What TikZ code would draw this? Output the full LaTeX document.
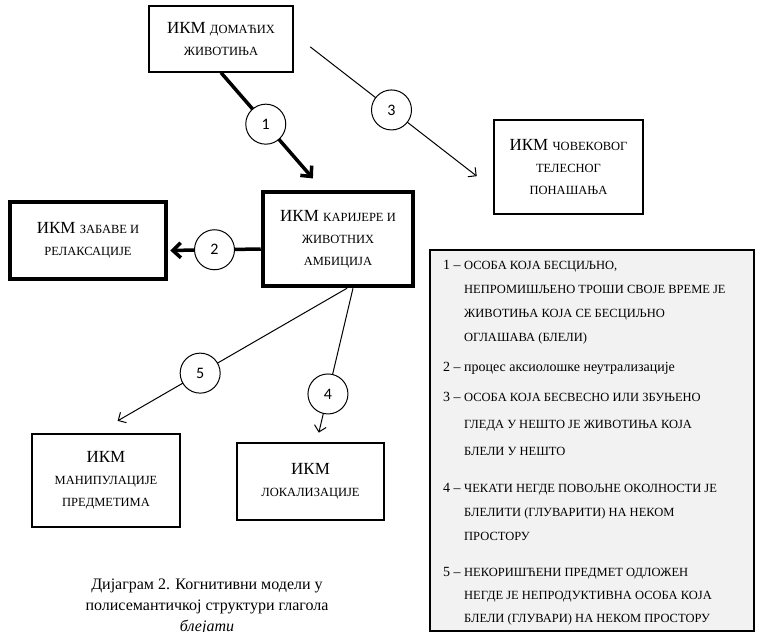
\documentclass[tikz,border=0pt]{standalone}
\usepackage{fontspec}
\setmainfont{Liberation Serif}
\newfontfamily\numfont{Carlito}
\usetikzlibrary{arrows.meta}

\definecolor{legendgray}{HTML}{F2F2F2}
\newcommand{\smc}[1]{{\fontsize{12.5bp}{24bp}\selectfont #1}}

\begin{document}
\begin{tikzpicture}[x=1bp,y=-1bp,>={Straight Barb[length=6bp,width=12bp]},
  ikm node/.style={draw,line width=1.3bp,align=center,inner sep=0pt,
    font=\fontsize{17bp}{22bp}\selectfont},
  main ikm node/.style={ikm node,line width=4.5bp},
  num node/.style={circle,draw,fill=white,line width=1bp,minimum size=40bp,
    inner sep=0pt,font=\numfont\fontsize{16bp}{18bp}\selectfont},
  item node/.style={anchor=base west,inner sep=0pt,
    font=\fontsize{14bp}{24bp}\selectfont}]

  \useasboundingbox (0,0) rectangle (761,632);

  \node[ikm node,minimum width=144bp,minimum height=66bp] (dom) at (221,39)
    {ИКМ \smc{ДОМАЋИХ}\\\smc{ЖИВОТИЊА}};
  \node[ikm node,minimum width=149bp,minimum height=94bp] (tel) at (568.5,167)
    {ИКМ \smc{ЧОВЕКОВОГ}\\\smc{ТЕЛЕСНОГ}\\\smc{ПОНАШАЊА}};
  \node[main ikm node,minimum width=150bp,minimum height=94bp] (kar) at (338,239)
    {ИКМ \smc{КАРИЈЕРЕ И}\\\smc{ЖИВОТНИХ}\\\smc{АМБИЦИЈА}};
  \node[main ikm node,minimum width=156bp,minimum height=77bp] (zab) at (88,240.5)
    {ИКМ \smc{ЗАБАВЕ И}\\\smc{РЕЛАКСАЦИЈЕ}};
  \node[ikm node,minimum width=148bp,minimum height=93bp] (man) at (106,480.5)
    {ИКМ\\\smc{МАНИПУЛАЦИЈЕ}\\\smc{ПРЕДМЕТИМА}};
  \node[ikm node,minimum width=147bp,minimum height=77bp] (lok) at (310.5,481.5)
    {ИКМ\\\smc{ЛОКАЛИЗАЦИЈЕ}};

  \draw[->,>={Straight Barb[length=8bp,width=15bp]},line width=3.5bp,shorten >=15bp]
    (dom.south) -- ([xshift=62bp]kar.north west) node[num node,pos=0.44] (n1) {1};
  \draw[->,line width=1bp,shorten <=21bp,shorten >=21bp]
    ([yshift=5bp]dom.east) -- ([yshift=-22bp]tel.west) node[num node,pos=0.49] (n3) {3};
  \draw[->,>={Straight Barb[length=8bp,width=15bp]},line width=3.5bp,shorten >=2bp]
    ([yshift=-10bp]kar.west) -- ([yshift=-10bp]zab.east) node[num node,pos=0.5] (n2) {2};
  \draw[->,line width=1bp,shorten >=25bp]
    ([xshift=9bp]kar.south) -- ([xshift=-10bp]man.north) node[num node,pos=0.585] (n5) {5};
  \draw[->,line width=1bp,shorten >=10bp]
    ([xshift=15bp]kar.south) -- ([xshift=6bp]lok.north) node[num node,pos=0.686] (n4) {4};

  % legend
  \node[draw,fill=legendgray,line width=2bp,minimum width=324bp,minimum height=381bp,
    inner sep=0pt] (leg) at (592,440.5) {};
  \node[item node] (it1) at (443,269) {1 – \parbox[t]{285bp}{\raggedright
    \smc{ОСОБА КОЈА БЕСЦИЉНО,}\\\smc{НЕПРОМИШЉЕНО ТРОШИ СВОЈЕ ВРЕМЕ ЈЕ}\\
    \smc{ЖИВОТИЊА КОЈА СЕ БЕСЦИЉНО}\\\smc{ОГЛАШАВА (БЛЕЛИ)}}};
  \node[item node] (it2) at (443,371.5) {2 – процес аксиолошке неутрализације};
  \node[item node,font=\fontsize{14bp}{27bp}\selectfont] (it3) at (443,401)
    {3 – \parbox[t]{285bp}{\raggedright
    \smc{ОСОБА КОЈА БЕСВЕСНО ИЛИ ЗБУЊЕНО}\\\smc{ГЛЕДА У НЕШТО ЈЕ ЖИВОТИЊА КОЈА}\\
    \smc{БЛЕЛИ У НЕШТО}}};
  \node[item node] (it4) at (443,492) {4 – \parbox[t]{285bp}{\raggedright
    \smc{ЧЕКАТИ НЕГДЕ ПОВОЉНЕ ОКОЛНОСТИ ЈЕ}\\\smc{БЛЕЛИТИ (ГЛУВАРИТИ) НА НЕКОМ}\\
    \smc{ПРОСТОРУ}}};
  \node[item node,font=\fontsize{14bp}{23bp}\selectfont] (it5) at (443,576)
    {5 – \parbox[t]{285bp}{\raggedright
    \smc{НЕКОРИШЋЕНИ ПРЕДМЕТ ОДЛОЖЕН}\\\smc{НЕГДЕ ЈЕ НЕПРОДУКТИВНА ОСОБА КОЈА}\\
    \smc{БЛЕЛИ (ГЛУВАРИ) НА НЕКОМ ПРОСТОРУ}}};

  % caption
  \node[align=center,inner sep=0pt,anchor=north,font=\fontsize{16bp}{21bp}\selectfont]
    (cap) at (207,579) {Дијаграм 2. Когнитивни модели у\\полисемантичкој структури глагола\\
    \textit{блејати}};
\end{tikzpicture}
\end{document}
